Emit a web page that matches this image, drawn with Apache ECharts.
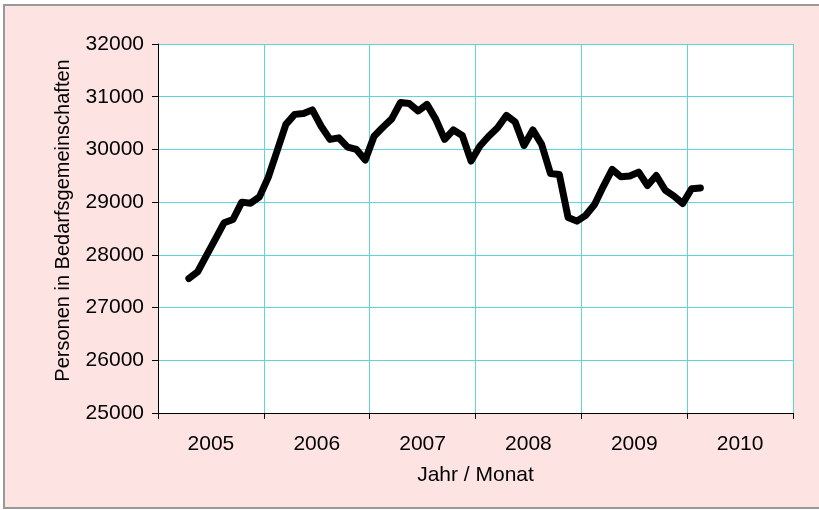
<!DOCTYPE html>
<html>
<head>
<meta charset="utf-8">
<script src="https://cdn.jsdelivr.net/npm/echarts@6/dist/echarts.min.js"></script>
<style>
  html, body { margin: 0; padding: 0; width: 819px; height: 510px; overflow: hidden; background: #fff; }
  #frame {
    position: absolute; left: 3px; top: 4px; width: 840px; height: 505px;
    box-sizing: border-box; border: 2px solid #999; background: #fee3e3;
  }
  #chart { position: absolute; left: 0; top: 0; width: 819px; height: 510px; }
</style>
</head>
<body>
<div id="frame"></div>
<div id="chart"></div>
<script>
// Jahre auf der x-Achse
const years = ['2005', '2006', '2007', '2008', '2009', '2010']
// erster Monat der Reihe (0 = Januar 2005), hier April 2005
const firstMonth = 3
// Personen in Bedarfsgemeinschaften, monatlich
const personen = [
  27550, 27680, 27990, 28300, 28610, 28670, 29000, 28980, 29100,
  29470, 29970, 30475, 30665, 30680, 30750, 30440, 30190, 30220, 30045, 30000, 29800,
  30250, 30420, 30580, 30890, 30870, 30730, 30855, 30570, 30190, 30370, 30265, 29780,
  30065, 30250, 30410, 30645, 30520, 30075, 30370, 30095, 29545, 29525, 28710, 28640,
  28750, 28955, 29300, 29620, 29480, 29495, 29570, 29315, 29505, 29230, 29115, 28975,
  29255, 29270,
]

const font = 'Liberation Sans, Arial, sans-serif'
const cyan = '#5fd5d5'

const chart = echarts.init(document.getElementById('chart'))
chart.setOption({
  animation: false,
  textStyle: { fontFamily: font },
  grid: {
    left: 158, top: 44, right: 26, bottom: 97,
    show: true, backgroundColor: '#fff', borderWidth: 0,
  },
  xAxis: [
    {
      type: 'category',
      data: years,
      boundaryGap: true,
      name: 'Jahr / Monat',
      nameLocation: 'middle',
      nameGap: 52,
      nameTextStyle: { fontSize: 21, color: '#000', fontFamily: font },
      axisLine: { lineStyle: { color: '#000', width: 1 } },
      axisTick: { show: true, length: 6, lineStyle: { color: '#000' } },
      axisLabel: { fontSize: 21, color: '#000', margin: 21, fontFamily: font },
      splitLine: { show: true, lineStyle: { color: cyan, width: 1 } },
    },
    {
      type: 'value',
      min: 0,
      max: 72,
      show: false,
    },
  ],
  yAxis: {
    type: 'value',
    min: 25000,
    max: 32000,
    interval: 1000,
    name: 'Personen in Bedarfsgemeinschaften',
    nameLocation: 'middle',
    nameGap: 85,
    nameTextStyle: { fontSize: 20, color: '#000', fontFamily: font, padding: [0, 0, 0, 16] },
    axisLine: { show: true, lineStyle: { color: '#000', width: 1 } },
    axisTick: { show: true, length: 6, lineStyle: { color: '#000' } },
    axisLabel: { fontSize: 21, color: '#000', margin: 14, fontFamily: font, formatter: (v) => String(v) },
    splitLine: { show: true, lineStyle: { color: cyan, width: 1 } },
  },
  series: [
    {
      type: 'line',
      xAxisIndex: 1,
      data: personen.map((v, k) => [firstMonth + k + 0.5, v]),
      symbol: 'none',
      smooth: false,
      lineStyle: { color: '#000', width: 7, cap: 'round', join: 'round' },
    },
  ],
})
</script>
</body>
</html>
